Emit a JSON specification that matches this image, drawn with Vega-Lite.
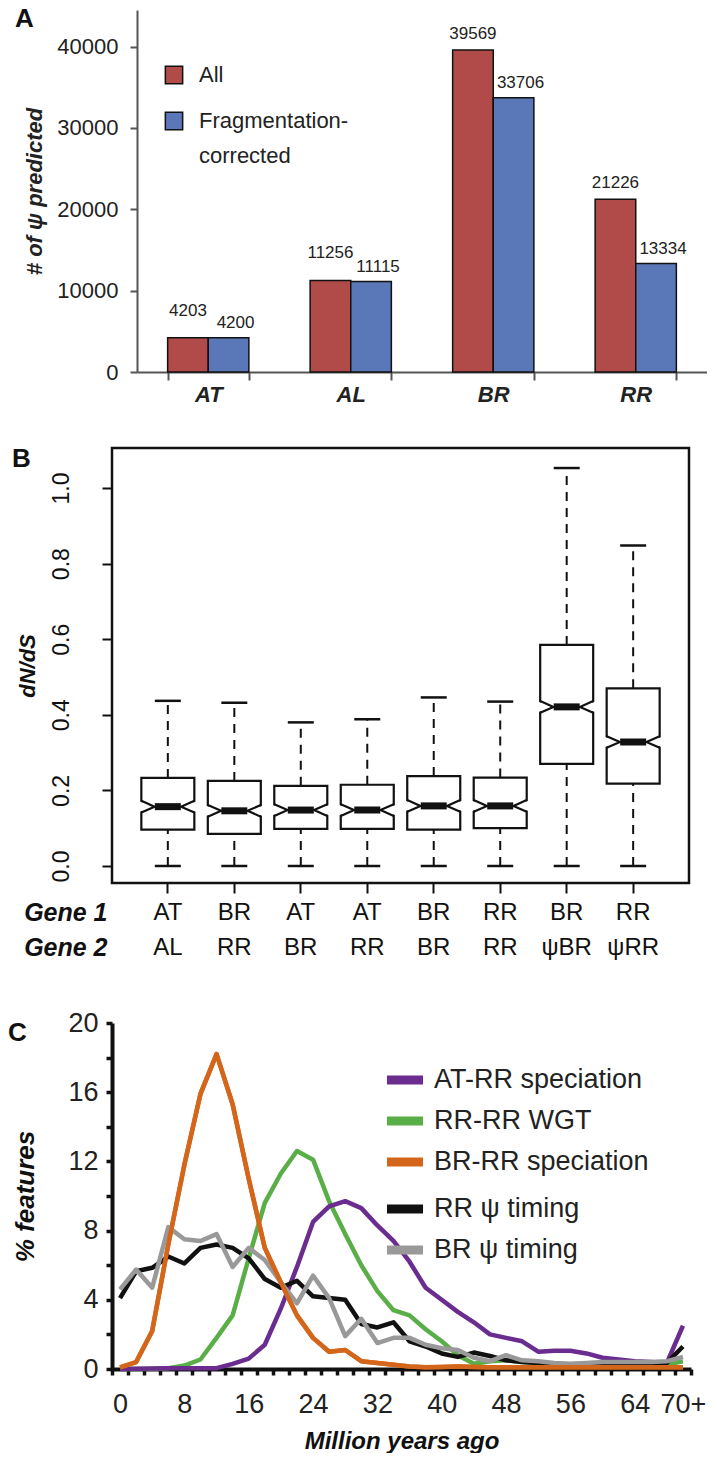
{
  "$schema": "https://vega.github.io/schema/vega-lite/v6.json",
  "background": "white",
  "padding": {"left": 8, "top": 6, "right": 0, "bottom": 0},
  "spacing": 39,
  "align": "none",
  "resolve": {"scale": {"color": "independent", "stroke": "independent"}, "legend": {"color": "independent", "stroke": "independent"}},
  "config": {
    "view": {"stroke": null},
    "font": "Liberation Sans",
    "axis": {"grid": false, "labelFont": "Liberation Sans", "titleFont": "Liberation Sans"},
    "legend": {"labelFont": "Liberation Sans"},
    "title": {"font": "Liberation Sans"},
    "style": {"guide-label": {"lineHeight": 35}}
  },
  "datasets": {
    "counts": [
      {"genome": "AT", "set": "All", "count": 4203},
      {"genome": "AT", "set": "Fragmentation-corrected", "count": 4200},
      {"genome": "AL", "set": "All", "count": 11256},
      {"genome": "AL", "set": "Fragmentation-corrected", "count": 11115},
      {"genome": "BR", "set": "All", "count": 39569},
      {"genome": "BR", "set": "Fragmentation-corrected", "count": 33706},
      {"genome": "RR", "set": "All", "count": 21226},
      {"genome": "RR", "set": "Fragmentation-corrected", "count": 13334}
    ],
    "dnds": [
      {"genes": "AT|AL", "lower": 0, "q1": 0.096, "median": 0.157, "q3": 0.233, "upper": 0.437},
      {"genes": "BR|RR", "lower": 0, "q1": 0.085, "median": 0.146, "q3": 0.225, "upper": 0.432},
      {"genes": "AT|BR", "lower": 0, "q1": 0.098, "median": 0.148, "q3": 0.212, "upper": 0.380},
      {"genes": "AT|RR", "lower": 0, "q1": 0.098, "median": 0.148, "q3": 0.215, "upper": 0.388},
      {"genes": "BR|BR", "lower": 0, "q1": 0.096, "median": 0.159, "q3": 0.238, "upper": 0.446},
      {"genes": "RR|RR", "lower": 0, "q1": 0.100, "median": 0.159, "q3": 0.234, "upper": 0.435},
      {"genes": "BR|ψBR", "lower": 0, "q1": 0.270, "median": 0.421, "q3": 0.585, "upper": 1.053},
      {"genes": "RR|ψRR", "lower": 0, "q1": 0.218, "median": 0.328, "q3": 0.470, "upper": 0.848}
    ],
    "timing": [
      {"series": "RR-RR WGT", "mya": 0, "pct": 0.0},
      {"series": "RR-RR WGT", "mya": 2, "pct": 0.0},
      {"series": "RR-RR WGT", "mya": 4, "pct": 0.02},
      {"series": "RR-RR WGT", "mya": 6, "pct": 0.05},
      {"series": "RR-RR WGT", "mya": 8, "pct": 0.2},
      {"series": "RR-RR WGT", "mya": 10, "pct": 0.55},
      {"series": "RR-RR WGT", "mya": 12, "pct": 1.8},
      {"series": "RR-RR WGT", "mya": 14, "pct": 3.1},
      {"series": "RR-RR WGT", "mya": 16, "pct": 6.4},
      {"series": "RR-RR WGT", "mya": 18, "pct": 9.6},
      {"series": "RR-RR WGT", "mya": 20, "pct": 11.3},
      {"series": "RR-RR WGT", "mya": 22, "pct": 12.6},
      {"series": "RR-RR WGT", "mya": 24, "pct": 12.1},
      {"series": "RR-RR WGT", "mya": 26, "pct": 9.7},
      {"series": "RR-RR WGT", "mya": 28, "pct": 7.8},
      {"series": "RR-RR WGT", "mya": 30, "pct": 6.0},
      {"series": "RR-RR WGT", "mya": 32, "pct": 4.5},
      {"series": "RR-RR WGT", "mya": 34, "pct": 3.4},
      {"series": "RR-RR WGT", "mya": 36, "pct": 3.1},
      {"series": "RR-RR WGT", "mya": 38, "pct": 2.3},
      {"series": "RR-RR WGT", "mya": 40, "pct": 1.6},
      {"series": "RR-RR WGT", "mya": 42, "pct": 0.8},
      {"series": "RR-RR WGT", "mya": 44, "pct": 0.3},
      {"series": "RR-RR WGT", "mya": 46, "pct": 0.45},
      {"series": "RR-RR WGT", "mya": 48, "pct": 0.5},
      {"series": "RR-RR WGT", "mya": 50, "pct": 0.4},
      {"series": "RR-RR WGT", "mya": 52, "pct": 0.35},
      {"series": "RR-RR WGT", "mya": 54, "pct": 0.3},
      {"series": "RR-RR WGT", "mya": 56, "pct": 0.25},
      {"series": "RR-RR WGT", "mya": 58, "pct": 0.2},
      {"series": "RR-RR WGT", "mya": 60, "pct": 0.2},
      {"series": "RR-RR WGT", "mya": 62, "pct": 0.2},
      {"series": "RR-RR WGT", "mya": 64, "pct": 0.2},
      {"series": "RR-RR WGT", "mya": 66, "pct": 0.2},
      {"series": "RR-RR WGT", "mya": 68, "pct": 0.25},
      {"series": "RR-RR WGT", "mya": 70, "pct": 0.45},
      {"series": "AT-RR speciation", "mya": 0, "pct": 0.0},
      {"series": "AT-RR speciation", "mya": 2, "pct": 0.02},
      {"series": "AT-RR speciation", "mya": 4, "pct": 0.03},
      {"series": "AT-RR speciation", "mya": 6, "pct": 0.04},
      {"series": "AT-RR speciation", "mya": 8, "pct": 0.05},
      {"series": "AT-RR speciation", "mya": 10, "pct": 0.05},
      {"series": "AT-RR speciation", "mya": 12, "pct": 0.05},
      {"series": "AT-RR speciation", "mya": 14, "pct": 0.3},
      {"series": "AT-RR speciation", "mya": 16, "pct": 0.6},
      {"series": "AT-RR speciation", "mya": 18, "pct": 1.4},
      {"series": "AT-RR speciation", "mya": 20, "pct": 3.5},
      {"series": "AT-RR speciation", "mya": 22, "pct": 5.9},
      {"series": "AT-RR speciation", "mya": 24, "pct": 8.5},
      {"series": "AT-RR speciation", "mya": 26, "pct": 9.4},
      {"series": "AT-RR speciation", "mya": 28, "pct": 9.7},
      {"series": "AT-RR speciation", "mya": 30, "pct": 9.3},
      {"series": "AT-RR speciation", "mya": 32, "pct": 8.3},
      {"series": "AT-RR speciation", "mya": 34, "pct": 7.4},
      {"series": "AT-RR speciation", "mya": 36, "pct": 6.2},
      {"series": "AT-RR speciation", "mya": 38, "pct": 4.7},
      {"series": "AT-RR speciation", "mya": 40, "pct": 4.0},
      {"series": "AT-RR speciation", "mya": 42, "pct": 3.3},
      {"series": "AT-RR speciation", "mya": 44, "pct": 2.7},
      {"series": "AT-RR speciation", "mya": 46, "pct": 2.0},
      {"series": "AT-RR speciation", "mya": 48, "pct": 1.8},
      {"series": "AT-RR speciation", "mya": 50, "pct": 1.6},
      {"series": "AT-RR speciation", "mya": 52, "pct": 1.0},
      {"series": "AT-RR speciation", "mya": 54, "pct": 1.05},
      {"series": "AT-RR speciation", "mya": 56, "pct": 1.05},
      {"series": "AT-RR speciation", "mya": 58, "pct": 0.9},
      {"series": "AT-RR speciation", "mya": 60, "pct": 0.65},
      {"series": "AT-RR speciation", "mya": 62, "pct": 0.55},
      {"series": "AT-RR speciation", "mya": 64, "pct": 0.45},
      {"series": "AT-RR speciation", "mya": 66, "pct": 0.4},
      {"series": "AT-RR speciation", "mya": 68, "pct": 0.35},
      {"series": "AT-RR speciation", "mya": 70, "pct": 2.5},
      {"series": "BR-RR speciation", "mya": 0, "pct": 0.1},
      {"series": "BR-RR speciation", "mya": 2, "pct": 0.4},
      {"series": "BR-RR speciation", "mya": 4, "pct": 2.2},
      {"series": "BR-RR speciation", "mya": 6, "pct": 7.2},
      {"series": "BR-RR speciation", "mya": 8, "pct": 11.8},
      {"series": "BR-RR speciation", "mya": 10, "pct": 15.9},
      {"series": "BR-RR speciation", "mya": 12, "pct": 18.2},
      {"series": "BR-RR speciation", "mya": 14, "pct": 15.3},
      {"series": "BR-RR speciation", "mya": 16, "pct": 11.0},
      {"series": "BR-RR speciation", "mya": 18, "pct": 7.0},
      {"series": "BR-RR speciation", "mya": 20, "pct": 5.0},
      {"series": "BR-RR speciation", "mya": 22, "pct": 3.1},
      {"series": "BR-RR speciation", "mya": 24, "pct": 1.8},
      {"series": "BR-RR speciation", "mya": 26, "pct": 1.0},
      {"series": "BR-RR speciation", "mya": 28, "pct": 1.1},
      {"series": "BR-RR speciation", "mya": 30, "pct": 0.45},
      {"series": "BR-RR speciation", "mya": 32, "pct": 0.35},
      {"series": "BR-RR speciation", "mya": 34, "pct": 0.25},
      {"series": "BR-RR speciation", "mya": 36, "pct": 0.15},
      {"series": "BR-RR speciation", "mya": 38, "pct": 0.1},
      {"series": "BR-RR speciation", "mya": 40, "pct": 0.12},
      {"series": "BR-RR speciation", "mya": 42, "pct": 0.15},
      {"series": "BR-RR speciation", "mya": 44, "pct": 0.12},
      {"series": "BR-RR speciation", "mya": 46, "pct": 0.1},
      {"series": "BR-RR speciation", "mya": 48, "pct": 0.1},
      {"series": "BR-RR speciation", "mya": 50, "pct": 0.1},
      {"series": "BR-RR speciation", "mya": 52, "pct": 0.1},
      {"series": "BR-RR speciation", "mya": 54, "pct": 0.1},
      {"series": "BR-RR speciation", "mya": 56, "pct": 0.1},
      {"series": "BR-RR speciation", "mya": 58, "pct": 0.1},
      {"series": "BR-RR speciation", "mya": 60, "pct": 0.1},
      {"series": "BR-RR speciation", "mya": 62, "pct": 0.1},
      {"series": "BR-RR speciation", "mya": 64, "pct": 0.1},
      {"series": "BR-RR speciation", "mya": 66, "pct": 0.1},
      {"series": "BR-RR speciation", "mya": 68, "pct": 0.1},
      {"series": "BR-RR speciation", "mya": 70, "pct": 0.1},
      {"series": "RR ψ timing", "mya": 0, "pct": 4.1},
      {"series": "RR ψ timing", "mya": 2, "pct": 5.65},
      {"series": "RR ψ timing", "mya": 4, "pct": 5.85},
      {"series": "RR ψ timing", "mya": 6, "pct": 6.5},
      {"series": "RR ψ timing", "mya": 8, "pct": 6.1},
      {"series": "RR ψ timing", "mya": 10, "pct": 7.0},
      {"series": "RR ψ timing", "mya": 12, "pct": 7.2},
      {"series": "RR ψ timing", "mya": 14, "pct": 7.0},
      {"series": "RR ψ timing", "mya": 16, "pct": 6.4},
      {"series": "RR ψ timing", "mya": 18, "pct": 5.2},
      {"series": "RR ψ timing", "mya": 20, "pct": 4.7},
      {"series": "RR ψ timing", "mya": 22, "pct": 5.1},
      {"series": "RR ψ timing", "mya": 24, "pct": 4.2},
      {"series": "RR ψ timing", "mya": 26, "pct": 4.1},
      {"series": "RR ψ timing", "mya": 28, "pct": 4.0},
      {"series": "RR ψ timing", "mya": 30, "pct": 2.6},
      {"series": "RR ψ timing", "mya": 32, "pct": 2.4},
      {"series": "RR ψ timing", "mya": 34, "pct": 2.7},
      {"series": "RR ψ timing", "mya": 36, "pct": 1.6},
      {"series": "RR ψ timing", "mya": 38, "pct": 1.3},
      {"series": "RR ψ timing", "mya": 40, "pct": 0.9},
      {"series": "RR ψ timing", "mya": 42, "pct": 0.7},
      {"series": "RR ψ timing", "mya": 44, "pct": 0.95},
      {"series": "RR ψ timing", "mya": 46, "pct": 0.75},
      {"series": "RR ψ timing", "mya": 48, "pct": 0.5},
      {"series": "RR ψ timing", "mya": 50, "pct": 0.4},
      {"series": "RR ψ timing", "mya": 52, "pct": 0.35},
      {"series": "RR ψ timing", "mya": 54, "pct": 0.3},
      {"series": "RR ψ timing", "mya": 56, "pct": 0.2},
      {"series": "RR ψ timing", "mya": 58, "pct": 0.25},
      {"series": "RR ψ timing", "mya": 60, "pct": 0.3},
      {"series": "RR ψ timing", "mya": 62, "pct": 0.3},
      {"series": "RR ψ timing", "mya": 64, "pct": 0.3},
      {"series": "RR ψ timing", "mya": 66, "pct": 0.3},
      {"series": "RR ψ timing", "mya": 68, "pct": 0.35},
      {"series": "RR ψ timing", "mya": 70, "pct": 1.3},
      {"series": "BR ψ timing", "mya": 0, "pct": 4.6},
      {"series": "BR ψ timing", "mya": 2, "pct": 5.75},
      {"series": "BR ψ timing", "mya": 4, "pct": 4.7},
      {"series": "BR ψ timing", "mya": 6, "pct": 8.2},
      {"series": "BR ψ timing", "mya": 8, "pct": 7.5},
      {"series": "BR ψ timing", "mya": 10, "pct": 7.4},
      {"series": "BR ψ timing", "mya": 12, "pct": 7.8},
      {"series": "BR ψ timing", "mya": 14, "pct": 5.9},
      {"series": "BR ψ timing", "mya": 16, "pct": 7.0},
      {"series": "BR ψ timing", "mya": 18, "pct": 6.3},
      {"series": "BR ψ timing", "mya": 20, "pct": 5.0},
      {"series": "BR ψ timing", "mya": 22, "pct": 3.8},
      {"series": "BR ψ timing", "mya": 24, "pct": 5.4},
      {"series": "BR ψ timing", "mya": 26, "pct": 4.1},
      {"series": "BR ψ timing", "mya": 28, "pct": 1.9},
      {"series": "BR ψ timing", "mya": 30, "pct": 2.9},
      {"series": "BR ψ timing", "mya": 32, "pct": 1.5},
      {"series": "BR ψ timing", "mya": 34, "pct": 1.8},
      {"series": "BR ψ timing", "mya": 36, "pct": 1.8},
      {"series": "BR ψ timing", "mya": 38, "pct": 1.4},
      {"series": "BR ψ timing", "mya": 40, "pct": 1.2},
      {"series": "BR ψ timing", "mya": 42, "pct": 1.1},
      {"series": "BR ψ timing", "mya": 44, "pct": 0.65},
      {"series": "BR ψ timing", "mya": 46, "pct": 0.45},
      {"series": "BR ψ timing", "mya": 48, "pct": 0.8},
      {"series": "BR ψ timing", "mya": 50, "pct": 0.5},
      {"series": "BR ψ timing", "mya": 52, "pct": 0.45},
      {"series": "BR ψ timing", "mya": 54, "pct": 0.35},
      {"series": "BR ψ timing", "mya": 56, "pct": 0.3},
      {"series": "BR ψ timing", "mya": 58, "pct": 0.35},
      {"series": "BR ψ timing", "mya": 60, "pct": 0.4},
      {"series": "BR ψ timing", "mya": 62, "pct": 0.4},
      {"series": "BR ψ timing", "mya": 64, "pct": 0.4},
      {"series": "BR ψ timing", "mya": 66, "pct": 0.4},
      {"series": "BR ψ timing", "mya": 68, "pct": 0.45},
      {"series": "BR ψ timing", "mya": 70, "pct": 0.7}
    ]
  },
  "vconcat": [
    {
      "width": 595,
      "height": 362,
      "title": {"text": "A", "anchor": "start", "frame": "bounds", "fontSize": 26, "fontWeight": "bold", "color": "#111", "dx": -8, "dy": 22, "offset": 0},
      "data": {"name": "counts"},
      "encoding": {
        "x": {
          "field": "genome", "type": "nominal", "sort": ["AT", "AL", "BR", "RR"],
          "scale": {"range": [25, 595], "paddingInner": 0.43, "paddingOuter": 0.215},
          "axis": {"title": null, "labelAngle": 0, "labelFontSize": 22, "labelFontWeight": "bold", "labelFontStyle": "italic", "labelColor": "#222", "tickBand": "extent", "tickSize": 8, "tickColor": "#555", "tickWidth": 2, "domainColor": "#555", "domainWidth": 2, "labelPadding": 4}
        },
        "xOffset": {"field": "set", "type": "nominal", "sort": ["All", "Fragmentation-corrected"]},
        "y": {
          "field": "count", "type": "quantitative",
          "scale": {"domain": [0, 44500], "nice": false},
          "axis": {"title": "# of  ψ predicted", "offset": -25, "values": [0, 10000, 20000, 30000, 40000], "format": "d", "labelFontSize": 22, "labelColor": "#222", "tickSize": 7, "tickColor": "#555", "tickWidth": 2, "domainColor": "#555", "domainWidth": 2, "labelPadding": 12, "minExtent": 81, "maxExtent": 81, "titlePadding": 10, "titleFontSize": 22, "titleFontWeight": "bold", "titleFontStyle": "italic", "titleColor": "#222"}
        }
      },
      "layer": [
        {
          "mark": {"type": "bar", "stroke": "#111", "strokeWidth": 1.5},
          "encoding": {
            "color": {
              "field": "set", "type": "nominal",
              "scale": {"domain": ["All", "Fragmentation-corrected"], "range": ["#b04b4a", "#5a77b8"]},
              "legend": {"title": null, "orient": "none", "legendX": 51, "legendY": 54, "symbolType": "square", "symbolSize": 300, "symbolStrokeColor": "#111", "symbolStrokeWidth": 1.5, "symbolOpacity": 1, "labelFontSize": 22, "labelColor": "#222", "labelOffset": 14, "rowPadding": 22, "labelLimit": 400, "labelExpr": "datum.label == 'Fragmentation-corrected' ? ['Fragmentation-', 'corrected'] : datum.label"}
            }
          }
        },
        {
          "transform": [{"filter": "datum.set == 'All' && (datum.genome == 'BR' || datum.genome == 'RR')"}],
          "mark": {"type": "text", "fontSize": 17, "color": "#222", "baseline": "middle", "dy": -16},
          "encoding": {"text": {"field": "count", "type": "quantitative", "format": "d"}}
        },
        {
          "transform": [{"filter": "datum.set == 'All' && (datum.genome == 'AT' || datum.genome == 'AL')"}],
          "mark": {"type": "text", "fontSize": 17, "color": "#222", "baseline": "middle", "dy": -27},
          "encoding": {"text": {"field": "count", "type": "quantitative", "format": "d"}}
        },
        {
          "transform": [{"filter": "datum.set == 'Fragmentation-corrected'"}],
          "mark": {"type": "text", "fontSize": 17, "color": "#222", "baseline": "middle", "dy": -15, "dx": 7},
          "encoding": {"text": {"field": "count", "type": "quantitative", "format": "d"}}
        }
      ]
    },
    {
      "spacing": 47,
      "align": "none",
      "resolve": {"scale": {"color": "independent", "stroke": "independent"}, "legend": {"color": "independent", "stroke": "independent"}},
      "vconcat": [
        {
          "width": 577,
          "height": 435,
          "view": {"stroke": "#111", "strokeWidth": 2.5},
          "title": {"text": "B", "anchor": "start", "frame": "bounds", "fontSize": 26, "fontWeight": "bold", "color": "#111", "dx": -4, "dy": 24, "offset": 0},
          "data": {"name": "dnds"},
          "encoding": {
            "x": {
              "field": "genes", "type": "nominal", "sort": null,
              "scale": {"paddingInner": 0, "paddingOuter": 0.34},
              "axis": {"labelExpr": "split(datum.label, '|')", "labelAngle": 0, "labelFont": "Liberation Sans Narrow, Liberation Sans", "labelFontSize": 24, "labelLineHeight": 35, "labelColor": "#111", "labelBaseline": "top", "tickSize": 10, "tickWidth": 2, "tickColor": "#111", "domain": false, "labelPadding": 7, "title": ["Gene 1", "Gene 2"], "titleAngle": 0, "titleAlign": "right", "titleBaseline": "top", "titleX": -5, "titleY": 17, "titleLineHeight": 35, "titleFont": "Liberation Sans Narrow, Liberation Sans", "titleFontSize": 25, "titleFontWeight": "bold", "titleFontStyle": "italic", "titleColor": "#111"}
            }
          },
          "layer": [
            {
              "mark": {"type": "rule", "strokeDash": [9, 7], "strokeWidth": 2, "color": "#111"},
              "encoding": {
                "y": {"field": "lower", "type": "quantitative", "scale": {"domain": [-0.045, 1.106], "nice": false, "zero": false},
                  "axis": {"title": "dN/dS", "values": [0, 0.2, 0.4, 0.6, 0.8, 1.0], "format": ".1f", "labelAngle": 270, "labelAlign": "center", "labelBaseline": "bottom", "labelFontSize": 23, "labelColor": "#111", "tickSize": 10, "tickWidth": 2, "tickColor": "#111", "domain": false, "labelPadding": 29, "minExtent": 58, "maxExtent": 58, "titlePadding": 15, "titleFontSize": 22, "titleFontWeight": "bold", "titleFontStyle": "italic", "titleColor": "#111"}},
                "y2": {"field": "q1"}
              }
            },
            {
              "mark": {"type": "rule", "strokeDash": [9, 7], "strokeWidth": 2, "color": "#111"},
              "encoding": {"y": {"field": "q3", "type": "quantitative"}, "y2": {"field": "upper"}}
            },
            {
              "mark": {"type": "bar", "size": 53, "fill": "white", "stroke": "#111", "strokeWidth": 2.2},
              "encoding": {"y": {"field": "q1", "type": "quantitative"}, "y2": {"field": "q3"}}
            },
            {
              "mark": {"type": "point", "shape": "M-1.15,-0.22L-0.5,0L-1.15,0.22Z M1.15,-0.22L0.5,0L1.15,0.22Z", "size": 2809, "filled": true, "fill": "white", "strokeWidth": 0, "opacity": 1},
              "encoding": {"y": {"field": "median", "type": "quantitative"}}
            },
            {
              "mark": {"type": "point", "shape": "M-1,-0.22L-0.5,0L-1,0.22M1,-0.22L0.5,0L1,0.22", "size": 2809, "filled": false, "stroke": "#111", "strokeWidth": 2.2, "opacity": 1},
              "encoding": {"y": {"field": "median", "type": "quantitative"}}
            },
            {
              "mark": {"type": "tick", "size": 26, "thickness": 7, "color": "#111", "opacity": 1},
              "encoding": {"y": {"field": "median", "type": "quantitative"}}
            },
            {
              "mark": {"type": "tick", "size": 26, "thickness": 2.5, "color": "#111", "opacity": 1},
              "encoding": {"y": {"field": "upper", "type": "quantitative"}}
            },
            {
              "mark": {"type": "tick", "size": 26, "thickness": 2.5, "color": "#111", "opacity": 1},
              "encoding": {"y": {"field": "lower", "type": "quantitative"}}
            }
          ]
        },
        {
          "width": 579,
          "height": 346,
          "title": {"text": "C", "anchor": "start", "frame": "bounds", "fontSize": 26, "fontWeight": "bold", "color": "#111", "dx": -4, "dy": 37, "offset": 0},
          "data": {"name": "timing"},
          "encoding": {
            "x": {
              "field": "mya", "type": "quantitative",
              "scale": {"domain": [-1, 71], "nice": false, "zero": false},
              "axis": {
                "title": "Million years ago",
                "values": [-1, 0, 1, 2, 3, 4, 5, 6, 7, 8, 9, 10, 11, 12, 13, 14, 15, 16, 17, 18, 19, 20, 21, 22, 23, 24, 25, 26, 27, 28, 29, 30, 31, 32, 33, 34, 35, 36, 37, 38, 39, 40, 41, 42, 43, 44, 45, 46, 47, 48, 49, 50, 51, 52, 53, 54, 55, 56, 57, 58, 59, 60, 61, 62, 63, 64, 65, 66, 67, 68, 69, 70, 71],
                "labelExpr": "datum.value == 70 ? '70+' : (datum.value >= 0 && datum.value <= 64 && datum.value % 8 == 0 ? format(datum.value, 'd') : '')",
                "labelOverlap": false, "labelFlush": false, "labelBound": false,
                "labelFont": "Liberation Sans Narrow, Liberation Sans", "labelFontSize": 27, "labelColor": "#222", "labelPadding": 16,
                "tickSize": 6, "tickWidth": 3.5, "tickColor": "#111",
                "tickOpacity": {"condition": {"test": "datum.value % 2 != 0", "value": 1}, "value": 0},
                "domainColor": "#111", "domainWidth": 4,
                "titleFontSize": 24, "titleFontWeight": "bold", "titleFontStyle": "italic", "titleColor": "#111", "titlePadding": 12
              }
            },
            "y": {
              "field": "pct", "type": "quantitative",
              "scale": {"domain": [0, 20], "nice": false},
              "axis": {
                "title": "% features",
                "values": [0, 2, 4, 6, 8, 10, 12, 14, 16, 18, 20],
                "labelExpr": "datum.value % 4 == 0 ? format(datum.value, 'd') : ''",
                "labelOverlap": false, "labelFlush": false, "labelBound": false,
                "labelFont": "Liberation Sans Narrow, Liberation Sans", "labelFontSize": 27, "labelColor": "#222", "labelPadding": 8,
                "tickSize": 6, "tickWidth": 3.5, "tickColor": "#111",
                "domainColor": "#111", "domainWidth": 4,
                "minExtent": 42, "maxExtent": 42, "titlePadding": 32,
                "titleFontSize": 26, "titleFontWeight": "bold", "titleFontStyle": "italic", "titleColor": "#111"
              }
            }
          },
          "layer": [
            {
              "transform": [{"filter": "datum.series == 'RR-RR WGT' || datum.series == 'AT-RR speciation' || datum.series == 'BR-RR speciation'"}],
              "mark": {"type": "line", "strokeWidth": 4.5, "strokeJoin": "round"},
              "encoding": {
                "color": {
                  "field": "series", "type": "nominal",
                  "scale": {"domain": ["AT-RR speciation", "RR-RR WGT", "BR-RR speciation"], "range": ["#6a2c8e", "#5aae47", "#d4661c"]},
                  "legend": {"title": null, "orient": "none", "legendX": 270, "legendY": 34, "symbolType": "stroke", "symbolStrokeWidth": 9, "symbolSize": 1300, "labelFont": "Liberation Sans Narrow, Liberation Sans", "labelFontSize": 27, "labelColor": "#222", "rowPadding": -5, "labelOffset": 6, "labelLimit": 400}
                }
              }
            },
            {
              "transform": [{"filter": "datum.series == 'RR ψ timing' || datum.series == 'BR ψ timing'"}],
              "mark": {"type": "line", "strokeWidth": 4.5, "strokeJoin": "round"},
              "encoding": {
                "stroke": {
                  "field": "series", "type": "nominal",
                  "scale": {"domain": ["RR ψ timing", "BR ψ timing"], "range": ["#111111", "#999999"]},
                  "legend": {"title": null, "orient": "none", "legendX": 270, "legendY": 163, "symbolType": "stroke", "symbolStrokeWidth": 9, "symbolSize": 1300, "labelFont": "Liberation Sans Narrow, Liberation Sans", "labelFontSize": 27, "labelColor": "#222", "rowPadding": -5, "labelOffset": 6, "labelLimit": 400}
                }
              }
            },
            {
              "transform": [{"filter": "datum.series == 'BR-RR speciation'"}],
              "mark": {"type": "line", "strokeWidth": 4.5, "strokeJoin": "round"},
              "encoding": {"color": {"field": "series", "type": "nominal"}}
            }
          ]
        }
      ]
    }
  ]
}
